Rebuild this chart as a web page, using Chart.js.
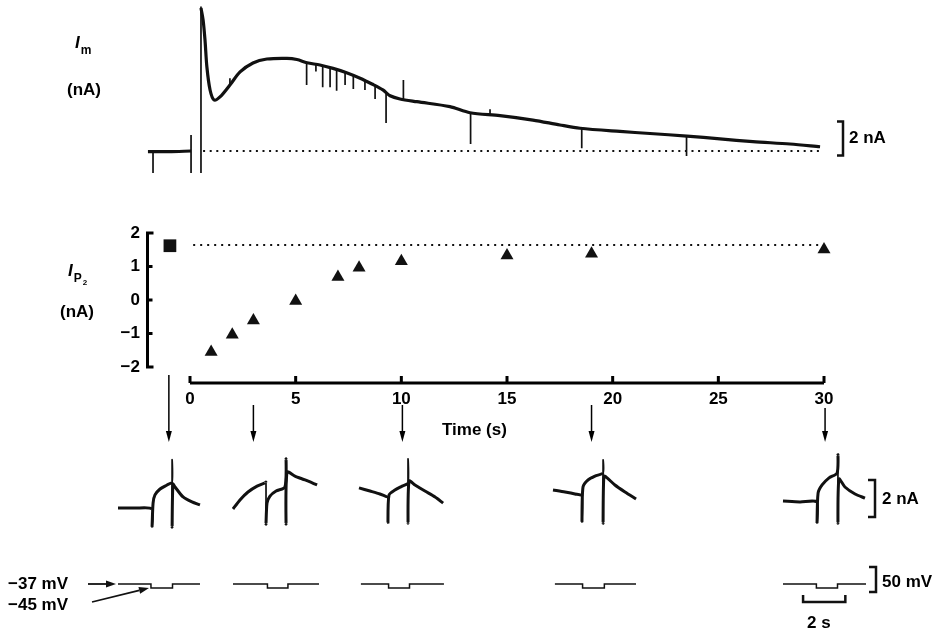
<!DOCTYPE html>
<html>
<head>
<meta charset="utf-8">
<script src="https://cdn.jsdelivr.net/npm/chart.js@4/dist/chart.umd.min.js"></script>
<style>
  body { margin: 0; background: #fff; width: 945px; height: 630px; position: relative; overflow: hidden;
         font-family: "Liberation Sans", Arial, sans-serif; font-weight: bold; color: #000; }
  canvas { position: absolute; left: 0; }
  .lbl { position: absolute; font-size: 17px; line-height: 1; white-space: nowrap; }
  .sub { font-size: 12px; position: relative; top: 6px; margin-left: 1px; }
  .sub2 { font-size: 8px; position: relative; top: 3px; margin-left: 1px; }
</style>
</head>
<body>
<canvas id="im" width="945" height="180" style="top:0"></canvas>
<canvas id="ip2" width="945" height="250" style="top:200px"></canvas>
<canvas id="sweeps" width="945" height="190" style="top:440px"></canvas>

<div class="lbl" style="left:75px;top:34px"><i>I</i><span class="sub">m</span></div>
<div class="lbl" style="left:67px;top:81px">(nA)</div>
<div class="lbl" style="left:68px;top:262px"><i>I</i><span class="sub">P<span class="sub2">2</span></span></div>
<div class="lbl" style="left:60px;top:303px">(nA)</div>
<div class="lbl" style="left:442px;top:421px">Time (s)</div>
<div class="lbl" style="left:849px;top:129px">2 nA</div>
<div class="lbl" style="left:882px;top:490px">2 nA</div>
<div class="lbl" style="left:882px;top:573px">50 mV</div>
<div class="lbl" style="left:807px;top:614px">2 s</div>
<div class="lbl" style="left:8px;top:575px">−37 mV</div>
<div class="lbl" style="left:8px;top:596px">−45 mV</div>

<script>
// ── Im trace (top), time in s, current in nA ──────────────────
const imTime    = [-1.99, -1.0, 0.05, 0.3, 0.52, 0.62, 0.71, 0.80, 0.95, 1.14, 1.42, 1.89, 2.37, 2.98, 3.64, 4.59, 5.06, 5.54,
                   6.15, 6.77, 7.38, 8.05, 8.61, 9.13, 9.47, 9.94, 10.74, 12.30, 13.25, 14.67, 16.23, 17.51, 18.46, 20.35,
                   21.77, 23.52, 25.08, 26.64, 28.40, 29.82];
const imCurrent = [-0.04, -0.04, 0.0, null, 8.41, 7.71, 6.53, 4.94, 3.59, 3.0, 3.18, 3.88, 4.65, 5.18, 5.41, 5.45, 5.38, 5.19,
                   5.06, 4.86, 4.62, 4.28, 3.94, 3.59, 3.25, 3.06, 2.9, 2.61, 2.25, 2.08, 1.82, 1.53, 1.34, 1.15,
                   1.03, 0.88, 0.71, 0.55, 0.41, 0.25];
const spikeTime = [-1.75, 0.05, 0.52, 1.89, 5.52, 5.96, 6.28, 6.63, 6.94, 7.34, 7.73, 8.28, 8.76, 9.28, 10.1, 13.28, 14.2, 18.54, 23.5];
const spikeFrom = [-0.04, 0.94, -1.29, 3.88, 5.19, 5.08, 5.0, 4.95, 4.86, 4.65, 4.45, 4.2, 3.9, 3.4, 3.03, 2.25, 2.15, 1.34, 0.88];
const spikeTo   = [-1.29, -1.29, 8.5, 4.28, 3.88, 4.67, 3.75, 3.75, 3.55, 3.88, 3.65, 3.59, 3.06, 1.65, 4.18, 0.41, 2.45, 0.16, -0.29];
const imZeroSpan = [0.62, 29.82];

// ── I_P2 vs time ─────────────────────────────────────────────
const xTicks   = [0, 5, 10, 15, 20, 25, 30];
const yTicks   = [-2, -1, 0, 1, 2];
const recTime  = [1, 2, 3, 5, 7, 8, 10, 15, 19, 30];
const recIp2   = [-1.55, -1.04, -0.61, -0.03, 0.69, 0.96, 1.16, 1.33, 1.38, 1.51];
const ctrlTime = [-0.95];
const ctrlIp2  = [1.62];
const ctrlSpan = [0.15, 29.9];
const arrowTime = [-1.0, 3.0, 10.05, 19.0, 30.05];

// ── Sample sweeps (local time s, current nA) ─────────────────
const s1Time = [0, 0.80, 1.61, 1.61, 1.66, 1.75, 1.99, 2.32, 2.56, 2.56, 2.56, 2.60, 2.70, 3.08, 3.50, 3.88];
const s1Curr = [0.05, 0.05, 0, -0.97, 0.32, 0.76, 1.08, 1.30, 1.46, 2.65, -0.97, 1.35, 1.19, 0.65, 0.38, 0.22];
const s2Time = [0, 0.33, 0.71, 1.14, 1.51, 1.56, 1.56, 1.61, 1.75, 2.04, 2.46, 2.51, 2.51, 2.56, 2.93, 3.41, 3.98];
const s2Curr = [0, 0.49, 0.92, 1.24, 1.41, 1.45, -0.81, 0.32, 0.70, 0.97, 1.19, 2.70, -0.81, 2.0, 1.78, 1.57, 1.30];
const s3Time = [0, 0.52, 0.99, 1.33, 1.37, 1.37, 1.42, 1.70, 2.04, 2.32, 2.32, 2.32, 2.37, 2.65, 3.12, 3.60, 3.98];
const s3Curr = [1.14, 0.97, 0.81, 0.65, 0.60, -0.76, 0.76, 1.03, 1.24, 1.41, 2.70, -0.76, 1.51, 1.30, 0.97, 0.65, 0.32];
const s4Time = [0, 0.57, 1.04, 1.37, 1.37, 1.42, 1.66, 1.99, 2.37, 2.37, 2.37, 2.41, 2.56, 2.93, 3.41, 3.93];
const s4Curr = [1.03, 0.92, 0.81, 0.70, -0.70, 1.19, 1.57, 1.78, 1.95, 2.65, -0.76, 1.78, 1.68, 1.30, 0.92, 0.54];
const s5Time = [0, 0.80, 1.61, 1.61, 1.66, 1.85, 2.18, 2.56, 2.60, 2.60, 2.65, 2.93, 3.41, 3.88];
const s5Curr = [0.43, 0.38, 0.38, -0.76, 0.86, 1.30, 1.68, 1.95, 2.92, -0.76, 1.62, 1.19, 0.81, 0.59];

// voltage protocol per sweep (mV, s)
const holdMV  = -37;
const testMV  = -45;
const vBegin  = [0, 0, 0.09, 0.09, 0];
const stepOn  = [1.56, 1.63, 1.40, 1.40, 1.58];
const stepOff = [2.58, 2.60, 2.39, 2.43, 2.58];
const vEnd    = [3.88, 4.07, 4.02, 3.93, 3.93];

// layout (pixels)
const FONT = '"Liberation Sans", Arial, sans-serif';
const PX_PER_S = 21.13;
const SWEEP_LEFT = [118, 233, 359, 553, 783];
const ARROW_TOP = [375, 405, 405, 405, 408];
const INK = '#111';

const pts = (xs, ys) => xs.map((x, i) => ({ x, y: ys[i] }));
const noUi = { legend: { display: false }, tooltip: { enabled: false } };

// ── Top: membrane current ────────────────────────────────────
const spikePts = [];
spikeTime.forEach((t, i) => {
  spikePts.push({ x: t, y: spikeFrom[i] }, { x: t, y: spikeTo[i] }, { x: t, y: null });
});

const imBar = {
  id: 'imBar',
  afterDraw(chart) {
    const { ctx, scales: { y } } = chart;
    const top = y.getPixelForValue(1.73), bot = y.getPixelForValue(-0.27);
    ctx.save();
    ctx.strokeStyle = INK; ctx.lineWidth = 2.5;
    ctx.beginPath();
    ctx.moveTo(837, top); ctx.lineTo(843, top); ctx.lineTo(843, bot); ctx.lineTo(837, bot);
    ctx.stroke();
    ctx.restore();
  }
};

new Chart(document.getElementById('im'), {
  type: 'line',
  data: {
    datasets: [
      { data: pts(imZeroSpan, [0, 0]), borderColor: INK, borderWidth: 2, borderDash: [2, 4.6], pointRadius: 0 },
      { data: pts(imTime, imCurrent), borderColor: INK, borderWidth: 3.2, pointRadius: 0, tension: 0.3, spanGaps: false },
      { data: spikePts, borderColor: INK, borderWidth: 1.7, pointRadius: 0, tension: 0, spanGaps: false },
    ]
  },
  options: {
    responsive: false, animation: false, events: [],
    layout: { padding: { left: 140, right: 115, top: 0, bottom: 0 } },
    plugins: noUi,
    scales: {
      x: { type: 'linear', min: -2.366, max: 30.29, display: false },
      y: { min: -1.706, max: 8.882, display: false },
    }
  },
  plugins: [imBar]
});

// ── Middle: I_P2 vs time ─────────────────────────────────────
const ip2Axes = {
  id: 'ip2Axes',
  afterDraw(chart) {
    const { ctx, chartArea, scales: { x, y } } = chart;
    ctx.save();
    ctx.strokeStyle = '#000'; ctx.fillStyle = '#000';
    // y axis as bracket with inward ticks
    const yl = chartArea.left + 1.5;
    const yTop = y.getPixelForValue(yTicks[yTicks.length - 1]), yBot = y.getPixelForValue(yTicks[0]);
    ctx.lineWidth = 3;
    ctx.beginPath();
    ctx.moveTo(yl + 6, yTop); ctx.lineTo(yl, yTop); ctx.lineTo(yl, yBot); ctx.lineTo(yl + 6, yBot);
    yTicks.slice(1, -1).forEach(v => { const py = y.getPixelForValue(v); ctx.moveTo(yl, py); ctx.lineTo(yl + 5, py); });
    ctx.stroke();
    // x axis below the plot, ticks upward
    const ay = chartArea.bottom + 16;
    ctx.beginPath();
    ctx.moveTo(x.getPixelForValue(xTicks[0]), ay); ctx.lineTo(x.getPixelForValue(xTicks[xTicks.length - 1]), ay);
    xTicks.forEach(v => { const px = x.getPixelForValue(v); ctx.moveTo(px, ay); ctx.lineTo(px, ay - 7); });
    ctx.stroke();
    // arrows to the sample sweeps
    const top0 = chart.canvas.offsetTop;
    ctx.lineWidth = 1.5;
    arrowTime.forEach((t, i) => {
      const px = x.getPixelForValue(t), tip = 442 - top0;
      ctx.beginPath(); ctx.moveTo(px, ARROW_TOP[i] - top0); ctx.lineTo(px, tip - 6); ctx.stroke();
      ctx.beginPath(); ctx.moveTo(px, tip); ctx.lineTo(px - 3, tip - 11); ctx.lineTo(px + 3, tip - 11); ctx.closePath(); ctx.fill();
    });
    ctx.restore();
  }
};

const tickFont = { family: FONT, size: 17, weight: 'bold' };

new Chart(document.getElementById('ip2'), {
  type: 'scatter',
  data: {
    datasets: [
      { type: 'line', data: pts(ctrlSpan, [ctrlIp2[0] + 0.02, ctrlIp2[0] + 0.02]), borderColor: INK, borderWidth: 2,
        borderDash: [2, 5], pointRadius: 0 },
      { data: pts(ctrlTime, ctrlIp2), pointStyle: 'rect', pointRadius: 9, backgroundColor: INK, borderWidth: 0, clip: false },
      { data: pts(recTime, recIp2), pointStyle: 'triangle', pointRadius: 7.5, backgroundColor: INK, borderWidth: 0, clip: false },
    ]
  },
  options: {
    responsive: false, animation: false, events: [],
    layout: { padding: { left: 0, right: 110, top: 33, bottom: 0 } },
    plugins: noUi,
    scales: {
      x: {
        type: 'linear', min: -2.082, max: 30.52,
        afterBuildTicks: a => { a.ticks = xTicks.map(v => ({ value: v })); },
        afterFit: a => { a.height = 83; },
        grid: { display: false, drawTicks: false }, border: { display: false },
        ticks: { color: '#000', font: tickFont, padding: 22, autoSkip: false, maxRotation: 0 }
      },
      y: {
        min: -2, max: 2,
        afterBuildTicks: a => { a.ticks = yTicks.map(v => ({ value: v })); },
        afterFit: a => { a.width = 146; },
        grid: { display: false, drawTicks: false }, border: { display: false },
        ticks: { color: '#000', font: tickFont, padding: 6, callback: v => (v < 0 ? '−' + Math.abs(v) : String(v)) }
      }
    }
  },
  plugins: [ip2Axes]
});

// ── Bottom: sample current sweeps and voltage steps ──────────
const sweepTimes = [s1Time, s2Time, s3Time, s4Time, s5Time];
const sweepCurrs = [s1Curr, s2Curr, s3Curr, s4Curr, s5Curr];

const sweepScales = {
  yI: { min: -6.54, max: 3.73, display: false },
  yV: { min: -129, max: 251, display: false },
};
const sweepSets = [];
SWEEP_LEFT.forEach((left, k) => {
  const id = 'x' + (k + 1);
  sweepScales[id] = { type: 'linear', min: -left / PX_PER_S, max: (945 - left) / PX_PER_S, display: false };
  sweepSets.push({
    data: pts(sweepTimes[k], sweepCurrs[k]), xAxisID: id, yAxisID: 'yI',
    borderColor: INK, borderWidth: 3, pointRadius: 0, tension: 0.25,
    segment: { borderWidth: c => (c.p0.parsed.x === c.p1.parsed.x ? 1.7 : 3) }
  });
  sweepSets.push({
    data: pts([vBegin[k], stepOn[k], stepOn[k], stepOff[k], stepOff[k], vEnd[k]], [holdMV, holdMV, testMV, testMV, holdMV, holdMV]),
    xAxisID: id, yAxisID: 'yV', borderColor: INK, borderWidth: 1.5, pointRadius: 0, tension: 0
  });
});

function arrow(ctx, x0, y0, x1, y1) {
  const a = Math.atan2(y1 - y0, x1 - x0), L = 10, W = 3.5;
  ctx.beginPath(); ctx.moveTo(x0, y0); ctx.lineTo(x1 - L * Math.cos(a), y1 - L * Math.sin(a)); ctx.stroke();
  ctx.beginPath();
  ctx.moveTo(x1, y1);
  ctx.lineTo(x1 - L * Math.cos(a) + W * Math.sin(a), y1 - L * Math.sin(a) - W * Math.cos(a));
  ctx.lineTo(x1 - L * Math.cos(a) - W * Math.sin(a), y1 - L * Math.sin(a) + W * Math.cos(a));
  ctx.closePath(); ctx.fill();
}

const sweepBars = {
  id: 'sweepBars',
  afterDraw(chart) {
    const { ctx, scales } = chart;
    ctx.save();
    ctx.strokeStyle = INK; ctx.fillStyle = INK; ctx.lineWidth = 2.5;
    // 2 nA bar
    let t = scales.yI.getPixelForValue(1.57), b = scales.yI.getPixelForValue(-0.43);
    ctx.beginPath(); ctx.moveTo(868, t); ctx.lineTo(875, t); ctx.lineTo(875, b); ctx.lineTo(868, b); ctx.stroke();
    // 50 mV bar
    t = scales.yV.getPixelForValue(-3); b = scales.yV.getPixelForValue(-53);
    ctx.beginPath(); ctx.moveTo(869, t); ctx.lineTo(876, t); ctx.lineTo(876, b); ctx.lineTo(869, b); ctx.stroke();
    // 2 s bar
    const x0 = scales.x5.getPixelForValue(0.95), x1 = scales.x5.getPixelForValue(2.95);
    ctx.beginPath(); ctx.moveTo(x0, 155); ctx.lineTo(x0, 162); ctx.lineTo(x1, 162); ctx.lineTo(x1, 155); ctx.stroke();
    // holding / test potential pointers
    ctx.lineWidth = 1.8;
    arrow(ctx, 88, 144, 116, 144);
    arrow(ctx, 92, 162, 149, 148);
    ctx.restore();
  }
};

new Chart(document.getElementById('sweeps'), {
  type: 'line',
  data: { datasets: sweepSets },
  options: {
    responsive: false, animation: false, events: [],
    layout: { padding: 0 },
    plugins: noUi,
    scales: sweepScales
  },
  plugins: [sweepBars]
});
</script>
</body>
</html>
